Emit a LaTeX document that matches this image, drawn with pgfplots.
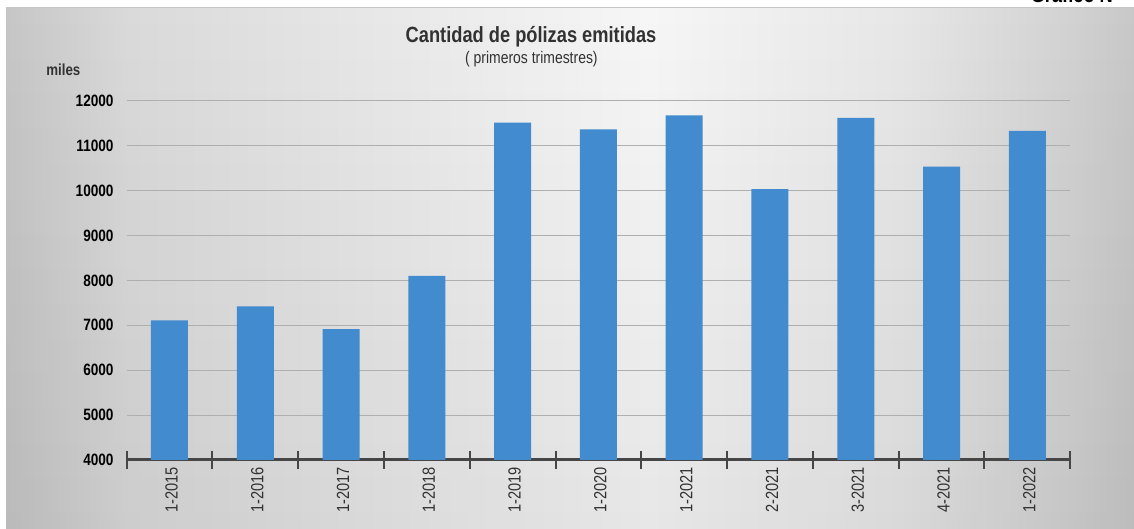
\documentclass[border=0pt]{standalone}
\usepackage{fontspec}
\setmainfont{Liberation Sans}[FakeStretch=0.83]
\usepackage{pgfplots}
\pgfplotsset{compat=1.18}
\usetikzlibrary{fadings}

\definecolor{barblue}{RGB}{66,139,206}
\definecolor{axisgray}{RGB}{70,70,70}
\definecolor{gridgray}{RGB}{175,175,175}
\definecolor{titlegray}{RGB}{50,50,50}
\definecolor{bgA}{RGB}{198,198,198}
\definecolor{bgB}{RGB}{218,218,218}
\definecolor{bgC}{RGB}{233,233,233}
\definecolor{bgD}{RGB}{246,246,246}
\definecolor{bgE}{RGB}{231,231,231}
\definecolor{bgF}{RGB}{210,210,210}
\definecolor{bgG}{RGB}{200,200,200}

% background profile from left to right (25bp..75bp = picture edges)
\pgfdeclarehorizontalshading{bgshade}{100bp}{%
  color(0bp)=(bgA); color(25bp)=(bgA); color(30.5bp)=(bgB);
  color(42.5bp)=(bgC); color(53.5bp)=(bgD); color(64.6bp)=(bgE);
  color(72.2bp)=(bgF); color(75bp)=(bgG); color(100bp)=(bgG)}

\pgfplotstableread{
x  val
0  7110
1  7420
2  6915
3  8100
4  11510
5  11364
6  11675
7  10030
8  11620
9  10530
10 11330
}\polizas

\begin{document}
\begin{tikzpicture}
\useasboundingbox (0,0) rectangle (567pt,264.5pt);
\fill[white] (0,0) rectangle (567pt,264.5pt);
\shade[shading=bgshade] (3pt,0) rectangle (567pt,260.75pt);
\fill[black, opacity=0.06, path fading=north] (3pt,0) rectangle (567pt,260.75pt);
\draw[gray!45, line width=0.4pt] (3pt,260.75pt) -- (567pt,260.75pt);

\node[anchor=base east, font=\bfseries\fontsize{11}{13}\selectfont, text=black]
  at (560pt,263pt) {Gráfico N};

\node[anchor=base, font=\bfseries\fontsize{11}{13}\selectfont, text=titlegray]
  at (265.5pt,243pt) {Cantidad de pólizas emitidas};
\node[anchor=base, font=\fontsize{8.4}{10}\selectfont, text=titlegray]
  at (265.7pt,232.5pt) {( primeros trimestres)};
\node[anchor=base west, font=\bfseries\fontsize{8}{10}\selectfont, text=titlegray, inner sep=0pt]
  at (23pt,226.5pt) {miles};

\begin{axis}[
  at={(63.3pt,34.5pt)}, anchor=south west,
  width=471.8pt, height=179.65pt, scale only axis,
  ybar, bar width=18.5pt, bar shift=0pt,
  xmin=-0.5, xmax=10.5, ymin=4000, ymax=12000,
  xtick={0,...,10},
  xticklabels={1-2015,1-2016,1-2017,1-2018,1-2019,1-2020,1-2021,2-2021,3-2021,4-2021,1-2022},
  minor xtick={-0.5,0.5,...,10.5},
  ytick={4000,5000,...,12000},
  scaled y ticks=false,
  axis x line=bottom, axis y line=left,
  x axis line style={-, draw=axisgray, line width=1.5pt},
  y axis line style={draw=none},
  major tick length=0pt, minor tick length=9pt, tick align=center,
  minor tick style={draw=axisgray, line width=1pt},
  ytick style={draw=none},
  ymajorgrids, major grid style={draw=gridgray, line width=0.5pt},
  /pgf/number format/1000 sep={},
  /pgf/number format/assume math mode=true,
  yticklabel style={font=\bfseries\fontsize{8.2}{9}\selectfont, text=black, xshift=-3pt},
  xticklabel style={rotate=90, anchor=east, font=\fontsize{8.8}{9}\selectfont, text=titlegray, yshift=-1pt},
]
\addplot[fill=barblue, draw=none] table[x=x, y=val] {\polizas};
\end{axis}
\end{tikzpicture}
\end{document}
